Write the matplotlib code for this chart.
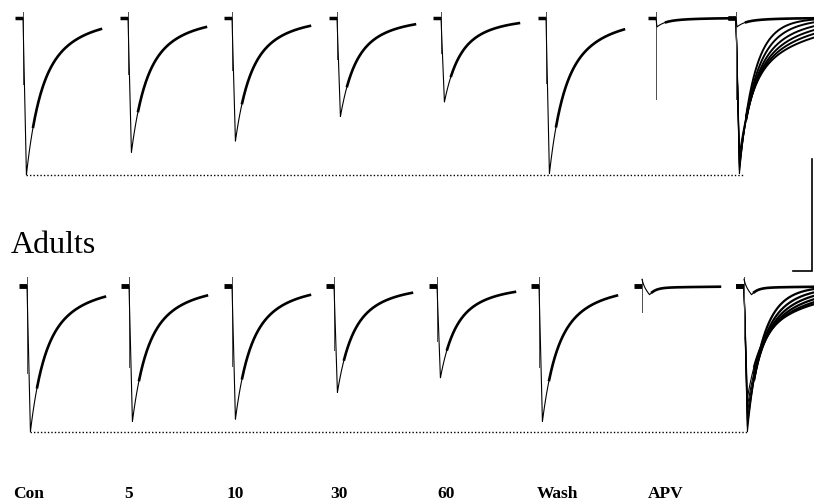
import numpy as np
import matplotlib
matplotlib.use('Agg')
import matplotlib.pyplot as plt

# figure size in pixels (dpi 100)
W, H = 814, 502
PX_PER_MS = 0.19   # 19 px = 100 ms
PX_PER_PA = 1.12   # 112 px = 100 pA

# conditions
labels = ['Con', '5', '10', '30', '60', 'Wash', 'APV']

# peak amplitudes (pA) of the averaged EPSCs
top_peak = [140, 120, 110, 88, 75, 139]
bottom_peak = [130, 121, 119, 95, 82, 121]
# slow decay constants (ms)
top_tau = [210, 205, 200, 200, 195, 215]
bottom_tau = [215, 210, 205, 200, 200, 210]

# APV traces: inward / outward amplitude (pA)
apv_top = [8, 0]
apv_bottom = [8, 6]

# scaled traces in the superimposed column
over_top_peak = [139, 136, 133, 130, 126, 122]
over_top_tau = [100, 140, 185, 230, 280, 340]
over_bottom_peak = [130, 125, 120, 114, 108, 100]
over_bottom_tau = [110, 150, 190, 235, 285, 340]

# stimulus onset of each sweep (px) - layout
onset_top = [23, 128, 232, 337, 441, 546, 656, 736]
onset_bot = [27, 129, 232, 334, 437, 539, 642, 744]
label_x = [13, 124, 227, 330, 437, 537, 648]

PRE_MS = 42
SWEEP_MS = 410
T_RISE = 18
TAU_FAST = 63
FRAC_FAST = 0.55


def epsc(t, amp, tau_slow, t_rise=T_RISE, tau_fast=TAU_FAST, frac=FRAC_FAST):
    td = np.clip(t - t_rise, 0, None)
    decay = frac * np.exp(-td / tau_fast) + (1 - frac) * np.exp(-td / tau_slow)
    return -amp * np.where(t < t_rise, t / t_rise, decay)


def row_axes(top_px, bot_px, base_px):
    ax = fig.add_axes([0, 1 - bot_px / H, 1, (bot_px - top_px) / H])
    ax.set_xlim(0, W / PX_PER_MS)
    ax.set_ylim(-(bot_px - base_px) / PX_PER_PA, (base_px - top_px) / PX_PER_PA)
    ax.axis('off')
    return ax


def sweep(ax, x0_px, y, up, art, pre_lw, tail_lw=1.9):
    x0 = x0_px / PX_PER_MS
    t = np.linspace(0, SWEEP_MS, 500)
    ax.plot([x0 - PRE_MS, x0], [0, 0], color='black', lw=pre_lw,
            solid_capstyle='butt')
    ax.plot([x0, x0], [up, -art], color='0.3', lw=0.7)
    fast = t < T_RISE + 45
    ax.plot(x0 + t[fast], y[fast], color='black', lw=0.8)
    slow = t >= T_RISE + 35
    ax.plot(x0 + t[slow], y[slow], color='black', lw=tail_lw)


fig = plt.figure(figsize=(W / 100, H / 100), dpi=100)
fig.patch.set_facecolor('white')

t = np.linspace(0, SWEEP_MS, 500)

# ---- top row ----
ax1 = row_axes(0, 200, 19)
for i in range(6):
    y = epsc(t, top_peak[i], top_tau[i])
    sweep(ax1, onset_top[i], y, 5, 0.42 * top_peak[i], 2.5)
y_apv1 = epsc(t, apv_top[0], 150, t_rise=5, tau_fast=40, frac=0.6)
sweep(ax1, onset_top[6], y_apv1, 5, 72, 2.5)
for a, tau in zip(over_top_peak, over_top_tau):
    sweep(ax1, onset_top[7], epsc(t, a, tau), 5, 72, 2.5, tail_lw=1.4)
sweep(ax1, onset_top[7], y_apv1, 5, 72, 2.5)
x_con = onset_top[0] / PX_PER_MS + T_RISE
ax1.hlines(-top_peak[0], x_con, onset_top[7] / PX_PER_MS + 40,
           colors='black', linestyles=(0, (1, 1.5)), lw=1)

# scale bar: 100 pA, 100 ms
xs = W / PX_PER_MS - 2 / PX_PER_MS
ys = -(160 - 19) / PX_PER_PA
ax1.plot([xs, xs, xs - 100], [ys, ys - 100, ys - 100], color='black',
         lw=1.2, clip_on=False, solid_joinstyle='miter')

# ---- bottom row ----
ax2 = row_axes(200, 460, 287)
for i in range(6):
    y = epsc(t, bottom_peak[i], bottom_tau[i])
    sweep(ax2, onset_bot[i], y, 8, 0.6 * bottom_peak[i], 3.5)
y_apv2 = (apv_bottom[1] * np.exp(-t / 12)
          + epsc(t, apv_bottom[0], 400, t_rise=40, tau_fast=30, frac=0.8))
sweep(ax2, onset_bot[6], y_apv2, 6, 23, 3.5)
for a, tau in zip(over_bottom_peak, over_bottom_tau):
    sweep(ax2, onset_bot[7], epsc(t, a, tau), 8, 45, 3.5, tail_lw=1.6)
sweep(ax2, onset_bot[7], y_apv2, 8, 45, 3.5)
x_con = onset_bot[0] / PX_PER_MS + T_RISE
ax2.hlines(-bottom_peak[0], x_con, onset_bot[7] / PX_PER_MS + 20,
           colors='black', linestyles=(0, (1, 1.5)), lw=1)

# ---- text ----
fig.text(11 / W, 1 - 253 / H, 'Adults', fontsize=23, family='Liberation Serif',
         va='baseline', ha='left')
for lab, lx in zip(labels, label_x):
    fig.text(lx / W, 1 - 498 / H, lab, fontsize=12.5, fontweight='bold',
             family='Liberation Serif', va='baseline', ha='left')

fig.savefig('out.png', dpi=100, facecolor='white')
